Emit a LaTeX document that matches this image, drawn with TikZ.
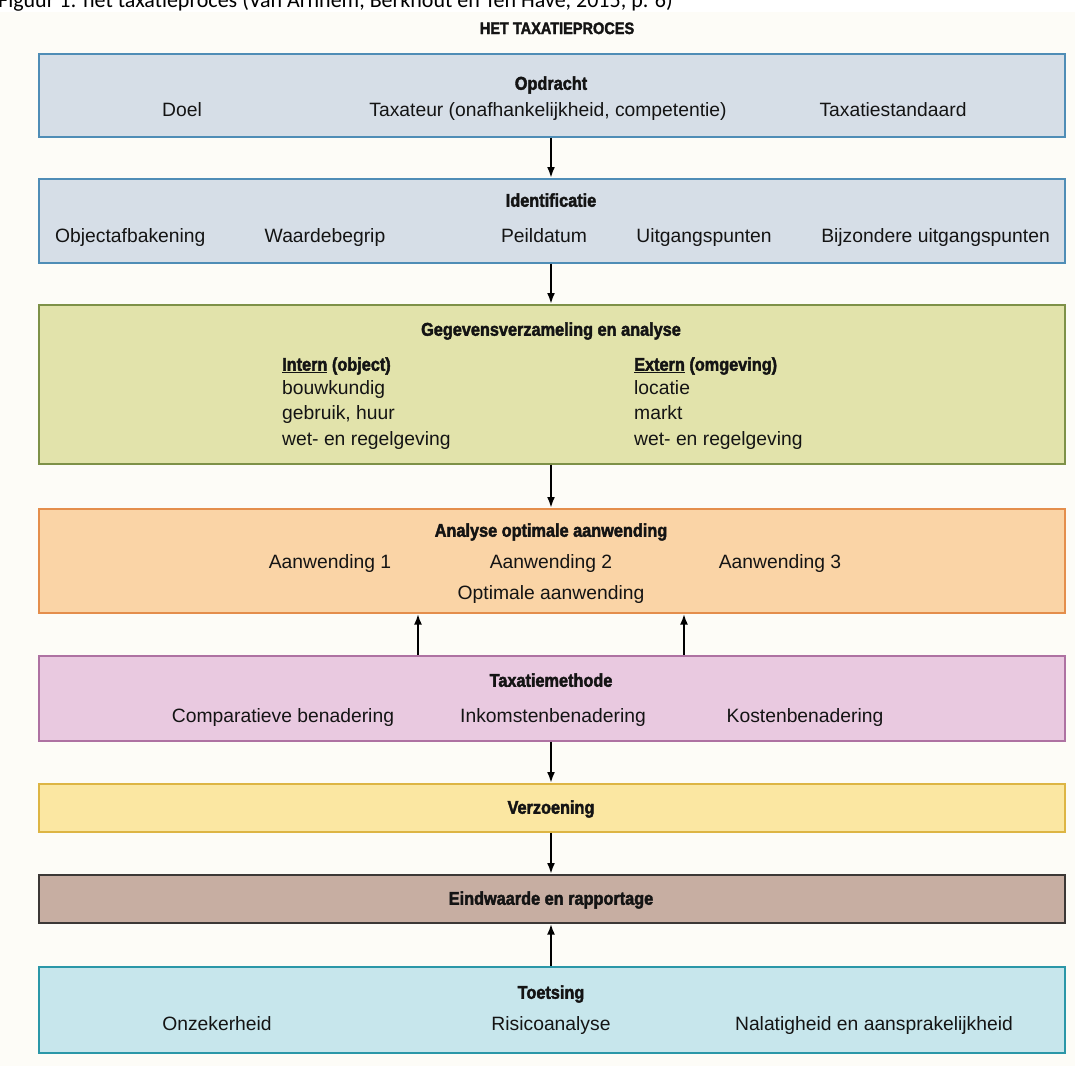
\documentclass[tikz,border=0pt]{standalone}
\usepackage{fontspec}
\setmainfont{Liberation Sans}[BoldFeatures={FakeBold=2.2, FakeStretch=0.88}]
\newfontfamily\capfont{Carlito}
\usetikzlibrary{arrows.meta,calc}
\definecolor{bgcol}{HTML}{FDFCF7}
\definecolor{blfill}{HTML}{D6DEE7}
\definecolor{bldraw}{HTML}{4F8DB6}
\definecolor{grfill}{HTML}{E2E3AB}
\definecolor{grdraw}{HTML}{7E9148}
\definecolor{orfill}{HTML}{FAD4A6}
\definecolor{ordraw}{HTML}{E48E4C}
\definecolor{pkfill}{HTML}{E9C9E0}
\definecolor{pkdraw}{HTML}{AE72A2}
\definecolor{yefill}{HTML}{FBE7A2}
\definecolor{yedraw}{HTML}{DDB544}
\definecolor{brfill}{HTML}{C7AEA2}
\definecolor{brdraw}{HTML}{3C3836}
\definecolor{cyfill}{HTML}{C7E6EC}
\definecolor{cydraw}{HTML}{2B97A8}
\definecolor{txt}{HTML}{141414}
\tikzset{
  panel/.style={draw, line width=1.6pt, rectangle, inner sep=0pt, anchor=north west, minimum width=1026pt},
  ttl/.style={font=\fontsize{18.5}{22}\selectfont\bfseries, text=txt, inner sep=0pt, text height=13.5pt, text depth=0pt},
  itm/.style={font=\fontsize{19.3}{22}\selectfont, text=txt, inner sep=0pt, text height=13.8pt, text depth=0pt},
  arr/.style={draw=black, line width=2.2pt, -{Latex[length=11pt,width=8pt]}}
}
\begin{document}
\begin{tikzpicture}[x=1pt,y=-1pt]
\clip (0,0) rectangle (1075,1066);
\fill[bgcol] (0,0) rectangle (1075,1066);
\fill[white] (0,0) rectangle (1075,12);
% caption (cut at the top edge, as in the reference)
\node[font=\capfont\fontsize{22}{26}\selectfont, anchor=base west, inner sep=0pt] (cap) at (-2,7) {Figuur 1: het taxatieproces (Van Arnhem, Berkhout en Ten Have, 2015, p. 6)};
\node[font=\fontsize{16.5}{18}\selectfont\bfseries, text=txt, inner sep=0pt, text height=12pt, text depth=0pt] (head) at (557,28) {HET TAXATIEPROCES};

% panels
\node[panel, fill=blfill, draw=bldraw, minimum height=83pt] (b1) at (38,53) {};
\node[panel, fill=blfill, draw=bldraw, minimum height=84pt] (b2) at (38,178) {};
\node[panel, fill=grfill, draw=grdraw, minimum height=159pt] (b3) at (38,304) {};
\node[panel, fill=orfill, draw=ordraw, minimum height=104pt] (b4) at (38,508) {};
\node[panel, fill=pkfill, draw=pkdraw, minimum height=85pt] (b5) at (38,655) {};
\node[panel, fill=yefill, draw=yedraw, minimum height=48pt] (b6) at (38,783) {};
\node[panel, fill=brfill, draw=brdraw, minimum height=48pt] (b7) at (38,874) {};
\node[panel, fill=cyfill, draw=cydraw, minimum height=86pt] (b8) at (38,966) {};

% box 1
\node[ttl] (t1) at (551,83) {Opdracht};
\node[itm] (t1a) at (182,110) {Doel};
\node[itm] (t1b) at (548,110) {Taxateur (onafhankelijkheid, competentie)};
\node[itm] (t1c) at (893,110) {Taxatiestandaard};
% box 2
\node[ttl] (t2) at (551,200) {Identificatie};
\node[itm, anchor=west] (t2a) at (55,236) {Objectafbakening};
\node[itm] (t2b) at (325,236) {Waardebegrip};
\node[itm] (t2c) at (544,236) {Peildatum};
\node[itm] (t2d) at (704,236) {Uitgangspunten};
\node[itm, anchor=east] (t2e) at (1050,236) {Bijzondere uitgangspunten};
% box 3
\node[ttl] (t3) at (551,329) {Gegevensverzameling en analyse};
\node[ttl, anchor=west] (t3l0) at (282,364) {\underline{Intern} (object)};
\node[itm, anchor=west] (t3l1) at (282,388) {bouwkundig};
\node[itm, anchor=west] (t3l2) at (282,413) {gebruik, huur};
\node[itm, anchor=west] (t3l3) at (282,439) {wet- en regelgeving};
\node[ttl, anchor=west] (t3r0) at (634,364) {\underline{Extern} (omgeving)};
\node[itm, anchor=west] (t3r1) at (634,388) {locatie};
\node[itm, anchor=west] (t3r2) at (634,413) {markt};
\node[itm, anchor=west] (t3r3) at (634,439) {wet- en regelgeving};
% box 4
\node[ttl] (t4) at (551,530) {Analyse optimale aanwending};
\node[itm] (t4a) at (330,562) {Aanwending 1};
\node[itm] (t4b) at (551,562) {Aanwending 2};
\node[itm] (t4c) at (780,562) {Aanwending 3};
\node[itm] (t4d) at (551,593) {Optimale aanwending};
% box 5
\node[ttl] (t5) at (551,680) {Taxatiemethode};
\node[itm] (t5a) at (283,716) {Comparatieve benadering};
\node[itm] (t5b) at (553,716) {Inkomstenbenadering};
\node[itm] (t5c) at (805,716) {Kostenbenadering};
% box 6
\node[ttl] (t6) at (551,807) {Verzoening};
% box 7
\node[ttl] (t7) at (551,898) {Eindwaarde en rapportage};
% box 8
\node[ttl] (t8) at (551,992) {Toetsing};
\node[itm] (t8a) at (217,1024) {Onzekerheid};
\node[itm] (t8b) at (551,1024) {Risicoanalyse};
\node[itm] (t8c) at (874,1024) {Nalatigheid en aansprakelijkheid};

% connectors
\coordinate (mx) at (551,0);
\coordinate (ua) at (418,0);
\coordinate (ub) at (684,0);
\draw[arr] (b1.south -| mx) -- (b2.north -| mx);
\draw[arr] (b2.south -| mx) -- (b3.north -| mx);
\draw[arr] (b3.south -| mx) -- (b4.north -| mx);
\draw[arr] (b5.north -| ua) -- (b4.south -| ua);
\draw[arr] (b5.north -| ub) -- (b4.south -| ub);
\draw[arr] (b5.south -| mx) -- (b6.north -| mx);
\draw[arr] (b6.south -| mx) -- (b7.north -| mx);
\draw[arr] (b8.north -| mx) -- (b7.south -| mx);
\end{tikzpicture}
\end{document}
